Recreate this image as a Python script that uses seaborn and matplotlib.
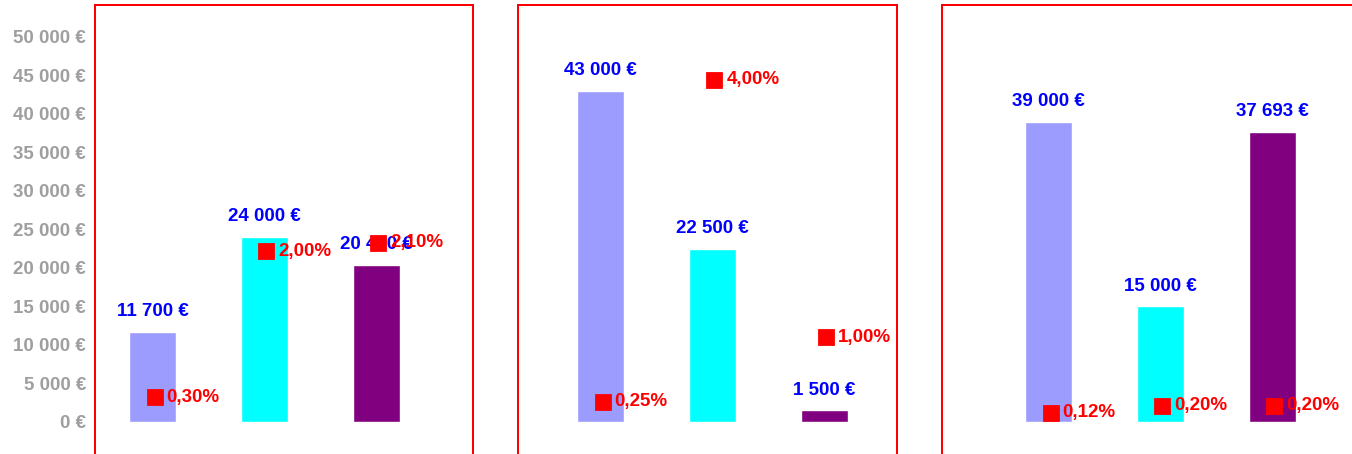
import matplotlib
matplotlib.use("Agg")
import matplotlib.pyplot as plt
import matplotlib.transforms as mtransforms
import seaborn as sns
import pandas as pd

# data
categories = ["Série 1", "Série 2", "Série 3"]
bar_colors = ["#9C9CFF", "#00FFFF", "#800080"]

montants_1 = [11700, 24000, 20400]
taux_1 = [0.30, 2.00, 2.10]
montants_2 = [43000, 22500, 1500]
taux_2 = [0.25, 4.00, 1.00]
montants_3 = [39000, 15000, 37693]
taux_3 = [0.12, 0.20, 0.20]

y_ticks = list(range(0, 50001, 5000))


def fmt_euro(v):
    return f"{v:,.0f}".replace(",", " ") + " €"


def fmt_pct(v):
    return f"{v:.2f}".replace(".", ",") + "%"


sns.set_theme(style="white")
plt.rcParams["font.family"] = ["Liberation Sans", "DejaVu Sans"]

W, H = 1352, 454
fig = plt.figure(figsize=(W / 100, H / 100), dpi=100)

# layout in pixels: box left, box right, centre of first bar
layout = [(95.3, 473.0, 152.5), (518.0, 896.7, 600.5), (942.0, 1400.0, 1048.5)]
unit = 111.9
top_px, bottom_px = 5, 460
fs = 13.5
# squares sit ~2 px right of the bar centres
nudge = mtransforms.ScaledTranslation(0.02, 0, fig.dpi_scale_trans)

series = [(montants_1, taux_1), (montants_2, taux_2), (montants_3, taux_3)]

for k, ((montants, taux), (left, right, c0)) in enumerate(zip(series, layout)):
    ax = fig.add_axes([left / W, 1 - bottom_px / H, (right - left) / W, (bottom_px - top_px) / H])
    df = pd.DataFrame({"cat": categories, "montant": montants, "taux": taux})
    sns.barplot(data=df, x="cat", y="montant", hue="cat", palette=bar_colors,
                saturation=1, width=0.42, legend=False, ax=ax)
    ax.set_ylim(-4977, 54145)
    x0 = (left - c0) / unit
    xlim = (x0, x0 + (right - left) / unit)
    for i, v in enumerate(montants):
        ax.annotate(fmt_euro(v), (i, v), xytext=(0, 14.4), textcoords="offset points",
                    ha="center", va="center", color="#0000FF", fontweight="bold", fontsize=fs)

    ax2 = ax.twinx()
    sns.pointplot(data=df, x="cat", y="taux", color="red", markers="s", linestyles="none",
                  markersize=9.4, ax=ax2)
    for ln in ax2.lines:
        ln.set_transform(ln.get_transform() + nudge)
    ax2.set_ylim(-0.431, 4.874)
    ax.set_xlim(xlim)
    for i, v in enumerate(taux):
        ax2.annotate(fmt_pct(v), (i, v), xytext=(10.0, 0), textcoords="offset points",
                     ha="left", va="center", color="red", fontweight="bold", fontsize=fs)

    for s in ax.spines.values():
        s.set_color("red")
        s.set_linewidth(1.44)
    for s in ax2.spines.values():
        s.set_visible(False)
    ax.set_xticks([])
    ax.set_xlabel("")
    ax.set_ylabel("")
    ax2.set_xticks([])
    ax2.set_yticks([])
    ax2.set_xlabel("")
    ax2.set_ylabel("")
    if k == 0:
        ax.set_yticks(y_ticks)
        ax.set_yticklabels([fmt_euro(v) for v in y_ticks], color="#9F9F9F",
                           fontweight="bold", fontsize=fs)
        ax.tick_params(axis="y", length=0, pad=6.7)
    else:
        ax.set_yticks([])

fig.savefig("out.png", dpi=100)
